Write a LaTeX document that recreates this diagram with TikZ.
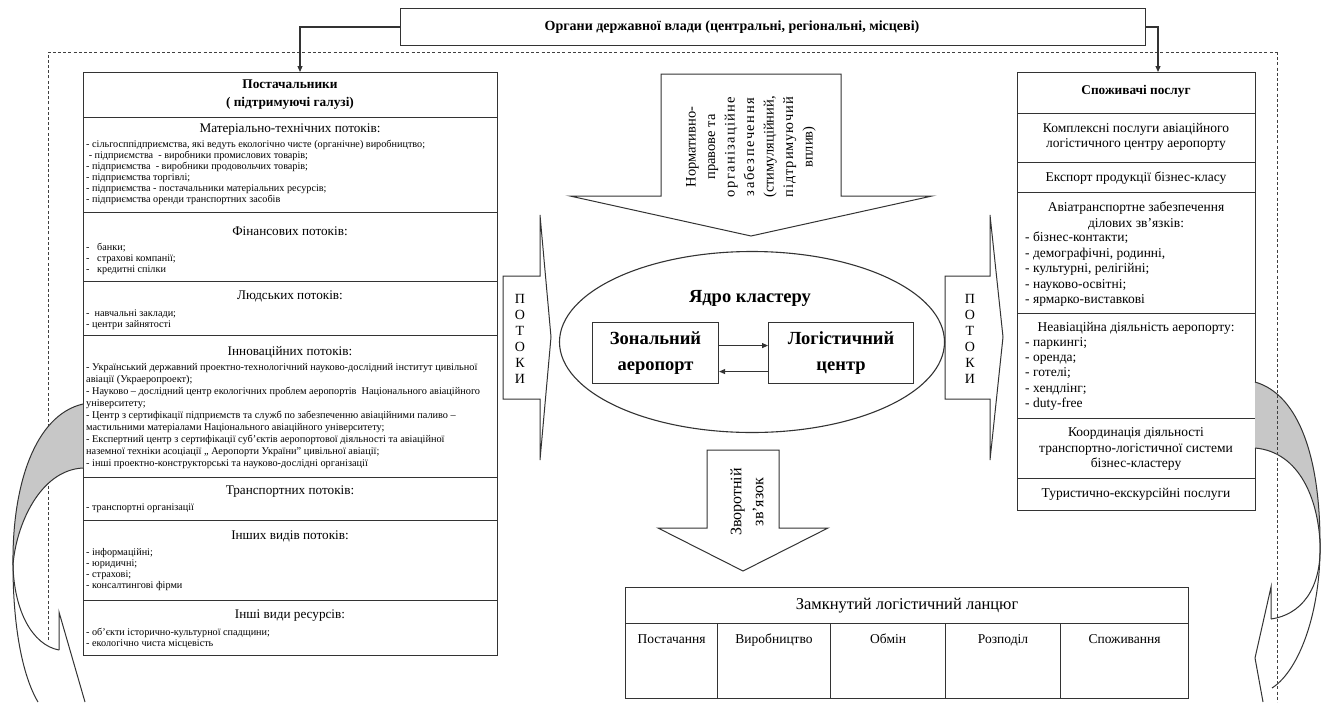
\documentclass[tikz,border=0pt]{standalone}
\usepackage{fontspec}
\setmainfont{Liberation Serif}
\usetikzlibrary{arrows.meta,shapes.geometric}
\def\sprx#1{\ifx#1\relax\else\hfil#1\expandafter\sprx\fi}
\def\sprf#1{#1\sprx}
\newcommand\spr[2]{\makebox[#1][s]{\sprf#2\relax}}
\begin{document}
\begin{tikzpicture}[x=1pt,y=-1pt,
  ln/.style={draw=black!80, line width=1.1pt},
  sect/.style={ln, anchor=north west, inner sep=0pt, minimum width=414pt},
  rsect/.style={ln, anchor=north west, inner sep=0pt, minimum width=238pt},
  ttl/.style={font=\fontsize{13.2}{15}\selectfont, inner sep=0pt},
  itm/.style={font=\fontsize{10.2}{11}\selectfont, align=left, anchor=north west, inner sep=0pt},
  inno/.style={font=\fontsize{10.3}{12}\selectfont, align=left, anchor=north west, inner sep=0pt},
  rtxt/.style={font=\fontsize{13.5}{15.6}\selectfont, align=center, inner sep=0pt},
  ritm/.style={font=\fontsize{13.5}{15.4}\selectfont, align=left, anchor=north west, inner sep=0pt},
  hdr/.style={font=\bfseries\fontsize{13.3}{18}\selectfont, align=center, inner sep=0pt},
  big/.style={font=\bfseries\fontsize{18.5}{26}\selectfont, align=center, inner sep=0pt},
  tip/.style={-{Triangle[length=6pt,width=5pt]}},
  blockarrow/.style={draw=black!80, line width=1pt, fill=white},
  dashframe/.style={draw=black!75, line width=1pt, dash pattern=on 3pt off 2.2pt},
  curv/.style={draw=black!80, line width=1pt},
  pot/.style={font=\fontsize{14}{16}\selectfont, align=center, inner sep=0pt},
  cell/.style={ln, minimum height=75pt, anchor=north west, inner sep=0pt},
  clab/.style={font=\fontsize{13.5}{15}\selectfont, inner sep=0pt, anchor=base}
]
\useasboundingbox (0,0) rectangle (1327,702);

% dashed frame (left part, under the left curved arrow)
\draw[dashframe] (48,640) -- (48,52) -- (1277,52);

% top box
\node[ln, fill=white, minimum width=745pt, minimum height=37pt, anchor=north west, inner sep=0pt] (gov) at (400,8) {};
\node[font=\bfseries\fontsize{14}{16}\selectfont, inner sep=0pt] (govt) at (732,27) {Органи державної влади (центральні, регіональні, місцеві)};
\coordinate (gl) at (300,27);
\coordinate (gr) at (1158,27);

% left supplier box
\node[sect, minimum height=45pt] (s0) at (83,72) {};
\node[sect, minimum height=95pt] (s1) at (83,117) {};
\node[sect, minimum height=69pt] (s2) at (83,212) {};
\node[sect, minimum height=54pt] (s3) at (83,281) {};
\node[sect, minimum height=142pt] (s4) at (83,335) {};
\node[sect, minimum height=43pt] (s5) at (83,477) {};
\node[sect, minimum height=80pt] (s6) at (83,520) {};
\node[sect, minimum height=55pt] (s7) at (83,600) {};

\draw[ln, tip] (gov.west |- gl) -- (gl) -- (s0.north -| gl);

\node[hdr] (s0t) at (290,94.5) {Постачальники\\( підтримуючі галузі)};
\node[ttl] (s1t) at (290,130) {Матеріально-технічних потоків:};
\node[itm] (s1i) at (86,140) {- сільгосппідприємства, які ведуть екологічно чисте (органічне) виробництво;\\
\ - підприємства\ \ - виробники промислових товарів;\\
- підприємства\ \ - виробники продовольчих товарів;\\
- підприємства торгівлі;\\
- підприємства - постачальники матеріальних ресурсів;\\
- підприємства оренди транспортних засобів};
\node[ttl] (s2t) at (290,231) {Фінансових потоків:};
\node[itm] (s2i) at (86,242.5) {-\ \ \ банки;\\-\ \ \ страхові компанії;\\-\ \ \ кредитні спілки};
\node[ttl] (s3t) at (290,296) {Людських потоків:};
\node[itm] (s3i) at (86,310) {-\ \ навчальні заклади;\\- центри зайнятості};
\node[ttl] (s4t) at (290,352) {Інноваційних потоків:};
\node[inno] (s4i) at (86,363.5) {- Український державний проектно-технологічний науково-дослідний інститут цивільної\\
авіації (Украеропроект);\\
- Науково -- дослідний центр екологічних проблем аеропортів\ \ Національного авіаційного\\
університету;\\
- Центр з сертифікації підприємств та служб по забезпеченню авіаційними паливо --\\
мастильними матеріалами Національного авіаційного університету;\\
- Експертний центр з сертифікації суб’єктів аеропортової діяльності та авіаційної\\
наземної техніки асоціації „ Аеропорти України” цивільної авіації;\\
- інші проектно-конструкторські та науково-дослідні організації};
\node[ttl] (s5t) at (290,492) {Транспортних потоків:};
\node[itm] (s5i) at (86,504) {- транспортні організації};
\node[ttl] (s6t) at (290,536) {Інших видів потоків:};
\node[itm] (s6i) at (86,548.5) {- інформаційні;\\- юридичні;\\- страхові;\\- консалтингові фірми};
\node[ttl] (s7t) at (290,616) {Інші види ресурсів:};
\node[itm] (s7i) at (86,628) {- об’єкти історично-культурної спадщини;\\- екологічно чиста місцевість};

% right consumer box
\node[rsect, minimum height=41pt] (r0) at (1017,72) {};
\node[rsect, minimum height=49pt] (r1) at (1017,113) {};
\node[rsect, minimum height=30pt] (r2) at (1017,162) {};
\node[rsect, minimum height=121pt] (r3) at (1017,192) {};
\node[rsect, minimum height=105pt] (r4) at (1017,313) {};
\node[rsect, minimum height=60pt] (r5) at (1017,418) {};
\node[rsect, minimum height=32pt] (r6) at (1017,478) {};

\draw[ln, tip] (gov.east |- gr) -- (gr) -- (r0.north -| gr);

\node[hdr] (r0t) at (1136,91) {Споживачі послуг};
\node[rtxt] (r1t) at (1136,137) {Комплексні послуги авіаційного\\логістичного центру аеропорту};
\node[rtxt] (r2t) at (1136,178) {Експорт продукції бізнес-класу};
\node[rtxt] (r3t) at (1136,216) {Авіатранспортне забезпечення\\ділових зв'язків:};
\node[ritm] (r3i) at (1025,232) {- бізнес-контакти;\\- демографічні, родинні,\\- культурні, релігійні;\\- науково-освітні;\\- ярмарко-виставкові};
\node[rtxt] (r4t) at (1136,328) {Неавіаційна діяльність аеропорту:};
\node[ritm] (r4i) at (1025,337) {- паркингі;\\- оренда;\\- готелі;\\- хендлінг;\\- duty-free};
\node[rtxt] (r5t) at (1136,449) {Координація діяльності\\транспортно-логістичної системи\\бізнес-кластеру};
\node[rtxt] (r6t) at (1136,494) {Туристично-екскурсійні послуги};

% ПОТОКИ arrows
\path[blockarrow] (503,276) -- (540,276) -- (540,215) -- (551,337) -- (540,460) -- (540,399) -- (503,399) -- cycle;
\node[pot] (p1) at (520,339) {П\\О\\Т\\О\\К\\И};
\path[blockarrow] (945,276) -- (990,276) -- (990,215) -- (1003,337) -- (990,460) -- (990,399) -- (945,399) -- cycle;
\node[pot] (p2) at (970,339) {П\\О\\Т\\О\\К\\И};

% normative arrow
\path[blockarrow] (661,74) -- (841,74) -- (841,196) -- (932,196) -- (751,236) -- (570,196) -- (661,196) -- cycle;
\node[rotate=90, font=\fontsize{14.5}{19.5}\selectfont, align=center, inner sep=0pt] (norm) at (751,147) {Нормативно-\\правове та\\\spr{100pt}{організаційне}\\\spr{98pt}{забезпечення}\\(стимуляційний,\\\spr{100pt}{підтримуючий}\\вплив)};

% cluster core
\node[ellipse, ln, minimum width=385pt, minimum height=181pt, inner sep=0pt] (core) at (752,342) {};
\node[big] (coret) at (750,298) {Ядро кластеру};
\node[ln, minimum width=126pt, minimum height=61pt, anchor=north west, inner sep=0pt] (air) at (592,322) {};
\node[big] at (air.center) {Зональний\\аеропорт};
\node[ln, minimum width=145pt, minimum height=61pt, anchor=north west, inner sep=0pt] (log) at (768,322) {};
\node[big] at (log.center) {Логістичний\\центр};
\draw[ln, tip] ([yshift=7.5pt]air.east) -- ([yshift=7.5pt]log.west);
\draw[ln, tip] ([yshift=-18.5pt]log.west) -- ([yshift=-18.5pt]air.east);

% feedback arrow
\path[blockarrow] (707,450) -- (779,450) -- (779,528) -- (828,528) -- (743,571) -- (658,528) -- (707,528) -- cycle;
\node[rotate=90, font=\fontsize{16}{22}\selectfont, align=center, inner sep=0pt] (fb) at (747,502) {Зворотній\\зв'язок};

% chain table
\node[ln, minimum width=563pt, minimum height=36pt, anchor=north west, inner sep=0pt] (ch) at (625,587) {};
\node[font=\fontsize{16.5}{18}\selectfont, inner sep=0pt] at (ch.center) {Замкнутий логістичний ланцюг};
\node[cell, minimum width=92pt] (c1) at (625,623) {};
\node[cell, minimum width=113pt] (c2) at (717,623) {};
\node[cell, minimum width=115pt] (c3) at (830,623) {};
\node[cell, minimum width=115pt] (c4) at (945,623) {};
\node[cell, minimum width=128pt] (c5) at (1060,623) {};
\foreach \c/\t in {c1/Постачання,c2/Виробництво,c3/Обмін,c4/Розподіл,c5/Споживання}
  \node[clab] at ([yshift=-20pt]\c.north) {\t};

% left curved arrow
\fill[black!22] (83,404) .. controls (35,415) and (12,485) .. (13,565) .. controls (16,525) and (40,470) .. (83,468) -- cycle;
\draw[curv] (83,404) .. controls (35,415) and (12,485) .. (13,565) .. controls (13,625) and (22,675) .. (38,702);
\draw[curv] (83,468) .. controls (40,470) and (16,525) .. (13,565) .. controls (14,610) and (32,645) .. (59,650);
\draw[curv] (59,650) -- (59,612) -- (85,702);

% right curved arrow
\fill[black!22] (1255,382) .. controls (1300,395) and (1320,460) .. (1320,543) .. controls (1318,500) and (1300,452) .. (1255,448) -- cycle;
\draw[curv] (1255,382) .. controls (1300,395) and (1320,460) .. (1320,543) .. controls (1321,610) and (1300,670) .. (1272,688);
\draw[curv] (1255,448) .. controls (1300,452) and (1318,500) .. (1320,543) .. controls (1322,590) and (1300,615) .. (1271,619);
\draw[curv] (1271,619) -- (1271,587) -- (1255,658) -- (1263,702);

% dashed frame (right part, over the right curved arrow)
\draw[dashframe] (1277,52) -- (1277,702);
\end{tikzpicture}
\end{document}
